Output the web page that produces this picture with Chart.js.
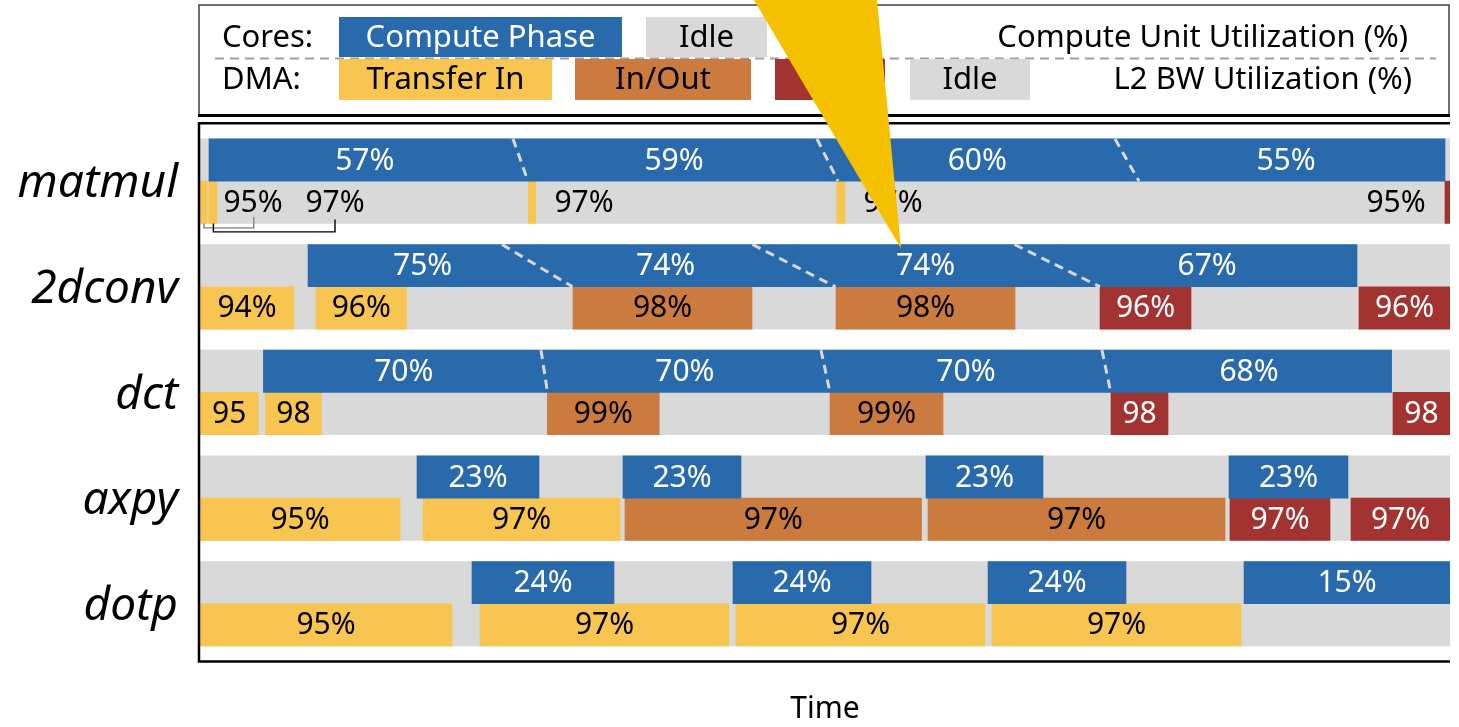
<!DOCTYPE html>
<html>
<head>
<meta charset="utf-8">
<script src="https://cdn.jsdelivr.net/npm/chart.js@4"></script>
<style>
  html, body { margin: 0; padding: 0; background: #fff; }
  #wrap { width: 1459px; height: 727px; }
</style>
</head>
<body>
<div id="wrap"><canvas id="c" width="1459" height="727"></canvas></div>
<script>
// ---- Kernels (rows, top to bottom) ----
const tasks = ['matmul', '2dconv', 'dct', 'axpy', 'dotp'];
const timeSpan = [0, 1000];

// matmul
const matmulCompute = [[7.2, 256.4], [256.4, 502], [502, 741.6], [741.6, 996]];
const matmulComputeUtil = ['57%', '59%', '60%', '55%'];
const matmulSplits = [[250.4, 262.4], [493.6, 510.4], [732, 751.2]];
const matmulDma = [[0, 5.8], [7, 13.6], [262.6, 268.6], [509.4, 516], [996, 1000]];
const matmulDmaKind = ['in', 'in', 'in', 'in', 'out'];
const matmulDmaUtil = ['95%', '97%', '97%', '97%', '95%'];
const matmulDmaLabelAt = [42.4, 108, 307.2, 554.4, 956.8];
const matmulBrackets = [[3.2, 43], [10.7, 108]];

// 2dconv
const conv2dCompute = [[86.4, 269.8], [269.8, 475.2], [475.2, 685.8], [685.8, 925.6]];
const conv2dComputeUtil = ['75%', '74%', '74%', '67%'];
const conv2dSplits = [[241.6, 298], [442, 508.4], [651.6, 720]];
const conv2dDma = [[0, 75.2], [92.8, 165.2], [298.4, 441.6], [508.8, 652], [720, 792.8], [927.2, 1000]];
const conv2dDmaKind = ['in', 'in', 'io', 'io', 'out', 'out'];
const conv2dDmaUtil = ['94%', '96%', '98%', '98%', '96%', '96%'];

// dct
const dctCompute = [[50.7, 275.4], [275.4, 500.4], [500.4, 725.1], [725.1, 953.3]];
const dctComputeUtil = ['70%', '70%', '70%', '68%'];
const dctSplits = [[272.8, 278], [496.8, 504], [721.6, 728.6]];
const dctDma = [[0, 46.7], [52.4, 97.2], [277.9, 367.4], [504, 594.4], [728.8, 774.4], [954.4, 1000]];
const dctDmaKind = ['in', 'in', 'io', 'io', 'out', 'out'];
const dctDmaUtil = ['95', '98', '99%', '99%', '98', '98'];

// axpy
const axpyCompute = [[173.6, 271.2], [338.4, 432.8], [580.8, 674.4], [823.2, 918.4]];
const axpyComputeUtil = ['23%', '23%', '23%', '23%'];
const axpyDma = [[0, 160], [178.4, 336], [340, 577.2], [582.4, 820], [824, 904], [920.8, 1000]];
const axpyDmaKind = ['in', 'in', 'io', 'io', 'out', 'out'];
const axpyDmaUtil = ['95%', '97%', '97%', '97%', '97%', '97%'];

// dotp
const dotpCompute = [[217.6, 331.2], [426.4, 536.8], [630.4, 740.8], [835.2, 1000]];
const dotpComputeUtil = ['24%', '24%', '24%', '15%'];
const dotpDma = [[0, 201.6], [224, 423.2], [428.8, 628], [633.6, 832.8]];
const dotpDmaKind = ['in', 'in', 'in', 'in'];
const dotpDmaUtil = ['95%', '97%', '97%', '97%'];

// callout points at this phase (2dconv, third compute phase)
const calloutAt = { row: 1, time: 560.8 };

// ---- Table built from the arrays above ----
const rows = [
  { compute: matmulCompute, util: matmulComputeUtil, splits: matmulSplits, dma: matmulDma, kind: matmulDmaKind, dmaUtil: matmulDmaUtil, labelAt: matmulDmaLabelAt },
  { compute: conv2dCompute, util: conv2dComputeUtil, splits: conv2dSplits, dma: conv2dDma, kind: conv2dDmaKind, dmaUtil: conv2dDmaUtil },
  { compute: dctCompute, util: dctComputeUtil, splits: dctSplits, dma: dctDma, kind: dctDmaKind, dmaUtil: dctDmaUtil },
  { compute: axpyCompute, util: axpyComputeUtil, splits: [], dma: axpyDma, kind: axpyDmaKind, dmaUtil: axpyDmaUtil },
  { compute: dotpCompute, util: dotpComputeUtil, splits: [], dma: dotpDma, kind: dotpDmaKind, dmaUtil: dotpDmaUtil }
];

const COLORS = { core: '#296AAC', in: '#F7C550', io: '#CC7B3E', out: '#A33330', idle: '#D9D9D9' };
const TEXT = { core: '#FFFFFF', in: '#000000', io: '#000000', out: '#FFFFFF', idle: '#000000' };
const FONT = '"Noto Sans", "DejaVu Sans", sans-serif';

// each kernel has a cores lane and a DMA lane directly below it
const coreLane = i => 2.5 * i;
const dmaLane = i => 2.5 * i + 1;

const lanes = { core: [], in: [], io: [], out: [], idle: [] };
rows.forEach((r, i) => {
  lanes.idle.push({ x: timeSpan, y: coreLane(i) }, { x: timeSpan, y: dmaLane(i) });
  r.compute.forEach((s, j) => lanes.core.push({ x: s, y: coreLane(i), label: r.util[j] }));
  r.dma.forEach((s, j) => lanes[r.kind[j]].push({
    x: s, y: dmaLane(i), label: r.dmaUtil[j], at: r.labelAt ? r.labelAt[j] : null
  }));
});

const mkSet = (label, key, order) => ({
  label, data: lanes[key], backgroundColor: COLORS[key], textColor: TEXT[key],
  borderWidth: 0, borderSkipped: false, grouped: false,
  barPercentage: 1, categoryPercentage: 1, order
});

const datasets = [
  mkSet('Compute Phase', 'core', 0),
  mkSet('Transfer In', 'in', 0),
  mkSet('In/Out', 'io', 0),
  mkSet('Out', 'out', 0),
  mkSet('Idle', 'idle', 1)
];

// ---- Plugins ----
const overlay = {
  id: 'overlay',
  afterDatasetsDraw(chart) {
    const { ctx, scales: { x, y } } = chart;
    const half = (y.getPixelForValue(1) - y.getPixelForValue(0)) / 2;
    ctx.save();
    // dashed phase separators on compute bars
    ctx.strokeStyle = '#D9D9D9';
    ctx.lineWidth = 3;
    ctx.setLineDash([9, 6]);
    rows.forEach((r, i) => {
      const yc = y.getPixelForValue(coreLane(i));
      r.splits.forEach(([t0, t1]) => {
        ctx.beginPath();
        ctx.moveTo(x.getPixelForValue(t0), yc - half);
        ctx.lineTo(x.getPixelForValue(t1), yc + half);
        ctx.stroke();
      });
    });
    ctx.setLineDash([]);

    // utilization labels
    ctx.font = '30px ' + FONT;
    ctx.textAlign = 'center';
    ctx.textBaseline = 'middle';
    chart.data.datasets.forEach((d, di) => {
      const meta = chart.getDatasetMeta(di);
      meta.data.forEach((el, k) => {
        const item = d.data[k];
        if (!item.label) return;
        const off = item.at !== null && item.at !== undefined;
        const cx = off ? x.getPixelForValue(item.at) : (el.x + el.base) / 2;
        ctx.fillStyle = off ? '#000' : d.textColor;
        ctx.fillText(item.label, cx, el.y + 1);
      });
    });

    // brackets tying the tiny matmul transfers to their labels
    const yb = y.getPixelForValue(dmaLane(0)) + half;
    const bStyle = [{ c: '#7F7F7F', drop: 4.5, rise: 6.5 }, { c: '#000', drop: 8.5, rise: 4 }];
    matmulBrackets.forEach(([t0, t1], k) => {
      const s = bStyle[k];
      ctx.strokeStyle = s.c;
      ctx.lineWidth = 1.4;
      ctx.beginPath();
      ctx.moveTo(x.getPixelForValue(t0), yb);
      ctx.lineTo(x.getPixelForValue(t0), yb + s.drop);
      ctx.lineTo(x.getPixelForValue(t1), yb + s.drop);
      ctx.lineTo(x.getPixelForValue(t1), yb - s.rise);
      ctx.stroke();
    });
    ctx.restore();
  },
  afterDraw(chart) {
    const { ctx, chartArea: ca, scales: { x, y } } = chart;
    ctx.save();
    // plot frame (left, top, bottom)
    ctx.strokeStyle = '#000';
    ctx.lineWidth = 2.5;
    ctx.beginPath();
    ctx.moveTo(ca.right, ca.top - 0.8);
    ctx.lineTo(ca.left - 1, ca.top - 0.8);
    ctx.lineTo(ca.left - 1, ca.bottom + 0.5);
    ctx.lineTo(ca.right, ca.bottom + 0.5);
    ctx.stroke();

    // legend box
    ctx.strokeStyle = '#404040';
    ctx.lineWidth = 1.5;
    ctx.strokeRect(199, 5, 1250, 110);
    ctx.strokeStyle = '#000';
    ctx.lineWidth = 3;
    ctx.beginPath(); ctx.moveTo(198, 115.5); ctx.lineTo(1450, 115.5); ctx.stroke();

    ctx.strokeStyle = '#A0A0A0';
    ctx.lineWidth = 2;
    ctx.setLineDash([9, 6]);
    ctx.beginPath(); ctx.moveTo(215, 58.5); ctx.lineTo(1436, 58.5); ctx.stroke();
    ctx.setLineDash([]);

    ctx.font = '31px ' + FONT;
    ctx.textBaseline = 'middle';
    ctx.fillStyle = '#000';
    ctx.textAlign = 'left';
    ctx.fillText('Cores:', 222, 38);
    ctx.fillText('DMA:', 222, 80);
    ctx.textAlign = 'right';
    ctx.fillText('Compute Unit Utilization (%)', 1408, 38);
    ctx.fillText('L2 BW Utilization (%)', 1412, 80);

    const keys = [
      { t: 'Compute Phase', k: 'core', x0: 339, x1: 622, y0: 17, y1: 57 },
      { t: 'Idle', k: 'idle', x0: 646, x1: 767, y0: 17, y1: 57 },
      { t: 'Transfer In', k: 'in', x0: 339, x1: 552, y0: 59, y1: 100 },
      { t: 'In/Out', k: 'io', x0: 575, x1: 751, y0: 59, y1: 100 },
      { t: 'Out', k: 'out', x0: 775, x1: 885, y0: 59, y1: 100 },
      { t: 'Idle', k: 'idle', x0: 910, x1: 1030, y0: 59, y1: 100 }
    ];
    ctx.textAlign = 'center';
    keys.forEach(b => {
      ctx.fillStyle = COLORS[b.k];
      ctx.fillRect(b.x0, b.y0, b.x1 - b.x0, b.y1 - b.y0);
      ctx.fillStyle = TEXT[b.k];
      ctx.fillText(b.t, (b.x0 + b.x1) / 2, (b.y0 + b.y1) / 2 + 1);
    });

    // callout wedge pointing at the highlighted phase
    const ax = x.getPixelForValue(calloutAt.time);
    const ay = y.getPixelForValue(coreLane(calloutAt.row)) - (y.getPixelForValue(1) - y.getPixelForValue(0)) / 2 + 4;
    ctx.fillStyle = '#F4C000';
    ctx.beginPath();
    ctx.moveTo(ax - 147, 0);
    ctx.lineTo(ax - 24, 0);
    ctx.lineTo(ax, ay);
    ctx.closePath();
    ctx.fill();
    ctx.restore();
  }
};

new Chart(document.getElementById('c'), {
  type: 'bar',
  data: { datasets },
  options: {
    indexAxis: 'y',
    responsive: false,
    animation: false,
    devicePixelRatio: 1,
    layout: { padding: { top: 124, right: 9, bottom: 0, left: 0 } },
    plugins: { legend: { display: false }, tooltip: { enabled: false } },
    scales: {
      x: {
        type: 'linear',
        min: timeSpan[0],
        max: timeSpan[1],
        grid: { display: false, drawTicks: false },
        border: { display: false },
        ticks: { display: false },
        title: { display: true, text: 'Time', color: '#000', padding: 0, font: { family: FONT, size: 30 } },
        afterFit(scale) { scale.height = 66; }
      },
      y: {
        type: 'linear',
        reverse: true,
        offset: false,
        min: -0.852,
        max: 11.855,
        grid: { display: false, drawTicks: false, offset: false },
        border: { display: false },
        afterBuildTicks(scale) { scale.ticks = tasks.map((t, i) => ({ value: coreLane(i) + 0.5 })); },
        ticks: {
          padding: 22,
          labelOffset: 3,
          color: '#000',
          font: { family: FONT, size: 46, style: 'italic' },
          callback: (v, i) => tasks[i]
        },
        afterFit(scale) { scale.width = 200; }
      }
    }
  },
  plugins: [overlay]
});
</script>
</body>
</html>
